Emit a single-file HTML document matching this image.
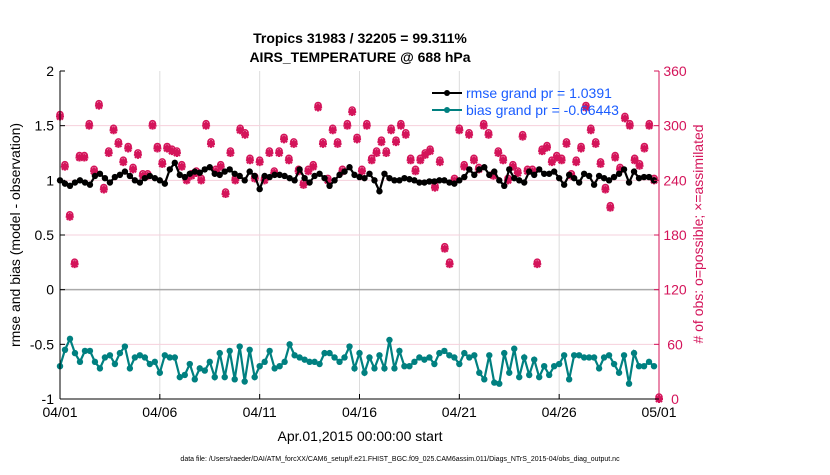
<!DOCTYPE html>
<html><head><meta charset="utf-8"><style>
body{margin:0;background:#fff;font-family:"Liberation Sans",sans-serif;}
svg text{font-family:"Liberation Sans",sans-serif;}
</style></head><body>
<svg id="c" width="830" height="470" xmlns="http://www.w3.org/2000/svg">
<text x="360" y="43" text-anchor="middle" font-size="14" font-weight="bold">Tropics 31983 / 32205 = 99.311%</text>
<text x="360" y="62" text-anchor="middle" font-size="14" font-weight="bold">AIRS_TEMPERATURE @ 688 hPa</text>
<text transform="translate(20,235) rotate(-90)" text-anchor="middle" font-size="14">rmse and bias (model - observation)</text>
<text transform="translate(703,234) rotate(-90)" text-anchor="middle" font-size="14" fill="#d4145a"># of obs: o=possible; ×=assimilated</text>
<text x="360" y="441" text-anchor="middle" font-size="14">Apr.01,2015 00:00:00 start</text>
<text x="400" y="461" text-anchor="middle" font-size="7">data file: /Users/raeder/DAI/ATM_forcXX/CAM6_setup/f.e21.FHIST_BGC.f09_025.CAM6assim.011/Diags_NTrS_2015-04/obs_diag_output.nc</text>
<g id="grid"></g><g id="marks"></g><g id="axes"></g>
<g>
<line x1="432" y1="93" x2="462" y2="93" stroke="#000" stroke-width="2"/><circle cx="447" cy="93" r="3" fill="#000"/>
<text x="466" y="98" font-size="14" fill="#1a5cff">rmse grand pr = 1.0391</text>
<line x1="432" y1="110" x2="462" y2="110" stroke="#008080" stroke-width="2"/><circle cx="447" cy="110" r="3" fill="#008080"/>
<text x="466" y="115" font-size="14" fill="#1a5cff">bias grand pr = -0.66443</text>
</g>
</svg>
<script>
const xTickLabels=["04/01","04/06","04/11","04/16","04/21","04/26","05/01"];
const xTickDays=[0,5,10,15,20,25,30];
const leftTicks=[-1,-0.5,0,0.5,1,1.5,2];
const rightTicks=[0,60,120,180,240,300,360];
const rmse=[1.0,0.97,0.95,0.98,1.0,0.98,0.96,1.04,1.06,1.02,0.98,1.03,1.05,1.08,1.04,1.0,0.98,1.02,1.04,1.02,1.0,0.97,1.1,1.16,1.05,1.03,1.06,1.08,1.07,1.1,1.12,1.06,1.05,1.08,1.1,1.06,1.04,1.0,1.08,1.04,0.92,1.04,1.03,1.05,1.05,1.04,1.02,1.0,1.1,1.02,0.98,1.04,1.06,1.02,0.95,1.0,1.05,1.08,1.12,1.05,1.03,1.02,1.06,1.0,0.9,1.06,1.02,1.0,1.0,1.02,1.01,1.0,0.98,0.98,0.99,0.99,1.0,1.0,0.98,0.97,1.0,1.03,1.1,1.05,1.1,1.12,1.05,1.08,1.0,0.95,1.1,1.02,1.0,0.98,1.08,1.05,1.1,1.06,1.06,1.08,1.02,0.96,1.05,1.02,0.98,1.06,1.04,0.96,1.04,1.02,1.0,1.03,1.06,1.1,0.98,1.08,1.02,1.03,1.03,1.0];
const bias=[-0.7,-0.55,-0.45,-0.58,-0.66,-0.56,-0.56,-0.66,-0.72,-0.62,-0.6,-0.68,-0.58,-0.52,-0.72,-0.62,-0.6,-0.62,-0.68,-0.66,-0.76,-0.6,-0.62,-0.62,-0.8,-0.78,-0.68,-0.82,-0.72,-0.74,-0.66,-0.8,-0.58,-0.8,-0.56,-0.82,-0.52,-0.84,-0.55,-0.8,-0.7,-0.66,-0.56,-0.72,-0.7,-0.66,-0.5,-0.6,-0.62,-0.64,-0.66,-0.66,-0.68,-0.58,-0.58,-0.62,-0.66,-0.62,-0.52,-0.72,-0.58,-0.76,-0.62,-0.72,-0.6,-0.72,-0.46,-0.72,-0.56,-0.7,-0.7,-0.66,-0.62,-0.64,-0.62,-0.68,-0.58,-0.56,-0.6,-0.62,-0.68,-0.58,-0.62,-0.6,-0.76,-0.82,-0.6,-0.85,-0.86,-0.58,-0.76,-0.54,-0.8,-0.62,-0.78,-0.64,-0.8,-0.7,-0.78,-0.7,-0.68,-0.6,-0.82,-0.6,-0.6,-0.62,-0.62,-0.62,-0.72,-0.62,-0.6,-0.68,-0.76,-0.6,-0.86,-0.58,-0.7,-0.7,-0.66,-0.7];
const obsUsed=[310,255,200,148,265,265,300,250,322,230,270,295,280,260,275,252,268,245,245,300,275,258,275,272,270,255,240,245,248,240,300,280,250,255,225,270,240,295,290,262,242,260,240,270,248,270,285,262,280,250,235,250,255,320,280,240,295,280,250,300,315,285,250,300,262,270,282,270,295,282,300,290,262,250,262,268,272,232,260,165,148,240,295,255,290,262,252,300,290,245,270,262,240,255,248,288,250,250,148,272,276,260,265,262,280,245,260,275,320,295,280,258,230,210,265,252,308,300,262,256,275,300,240,0];
const obsPoss=obsUsed.slice();
const NS="http://www.w3.org/2000/svg";
const L=60,R=659,T=71,B=399;
const xs=d=>L+(R-L)*d/30;
const yl=v=>B-(v+1)/3*(B-T);
const yr=v=>B-v/360*(B-T);
const n=obsUsed.length;
const dt=30/(n-1);
function mk(tag,a,p){const e=document.createElementNS(NS,tag);for(const k in a)e.setAttribute(k,a[k]);p.appendChild(e);return e;}
const grid=document.getElementById('grid'),marks=document.getElementById('marks'),axes=document.getElementById('axes');
xTickDays.forEach((d,i)=>{
 if(d>0&&d<30){const g=mk('line',{x1:xs(d),x2:xs(d),y1:T,y2:B,stroke:'#dcdcdc'},grid);}
 mk('line',{x1:xs(d),x2:xs(d),y1:B,y2:B-5,stroke:'#000'},axes);
 const t=mk('text',{x:xs(d),y:B+18,'text-anchor':'middle','font-size':14},axes);t.textContent=xTickLabels[i];
 
});
rightTicks.forEach(v=>{
 if(v>0&&v<360){const g=mk('line',{x1:L,x2:R,y1:yr(v),y2:yr(v),stroke:'#f6d0dc'},grid);}
 mk('line',{x1:R,x2:R-5,y1:yr(v),y2:yr(v),stroke:'#d4145a'},axes);
 const t=mk('text',{x:675,y:yr(v)+5,'font-size':14,fill:'#d4145a','text-anchor':'middle'},axes);t.textContent=v;
 
});
leftTicks.forEach(v=>{
 mk('line',{x1:L,x2:L+5,y1:yl(v),y2:yl(v),stroke:'#000'},axes);
 const t=mk('text',{x:L-6,y:yl(v)+5,'font-size':14,'text-anchor':'end'},axes);t.textContent=v;
 
});
const z=mk('line',{x1:L,x2:R,y1:yl(0),y2:yl(0),stroke:'#aaa','stroke-width':1.5},grid);

const al=mk('line',{x1:L,x2:L,y1:T,y2:B,stroke:'#000'},axes);
const ar=mk('line',{x1:R,x2:R,y1:T,y2:B,stroke:'#d4145a'},axes);
const ab=mk('line',{x1:L,x2:R,y1:B,y2:B,stroke:'#000'},axes);
obsPoss.forEach((v,i)=>{const c=mk('circle',{cx:xs(i*dt),cy:yr(v)-2,r:3,fill:'none',stroke:'#d4145a','stroke-width':1.5},marks);
 });
obsUsed.forEach((v,i)=>{const x=xs(i*dt),y=yr(v);
 const s=mk('path',{d:`M${x-4} ${y}H${x+4}M${x} ${y-4}V${y+4}M${x-3} ${y-3}L${x+3} ${y+3}M${x-3} ${y+3}L${x+3} ${y-3}`,stroke:'#d4145a','stroke-width':2.2},marks);
 });
function series(arr,col,name){
 const p=mk('polyline',{points:arr.map((v,i)=>xs(i*0.25)+','+yl(v)).join(' '),fill:'none',stroke:col,'stroke-width':2.2},marks);
 
 arr.forEach((v,i)=>{const c=mk('circle',{cx:xs(i*0.25),cy:yl(v),r:3.2,fill:col},marks);
  });
}
series(rmse,'#000','rmse');series(bias,'#008080','bias');
</script>
</body></html>
